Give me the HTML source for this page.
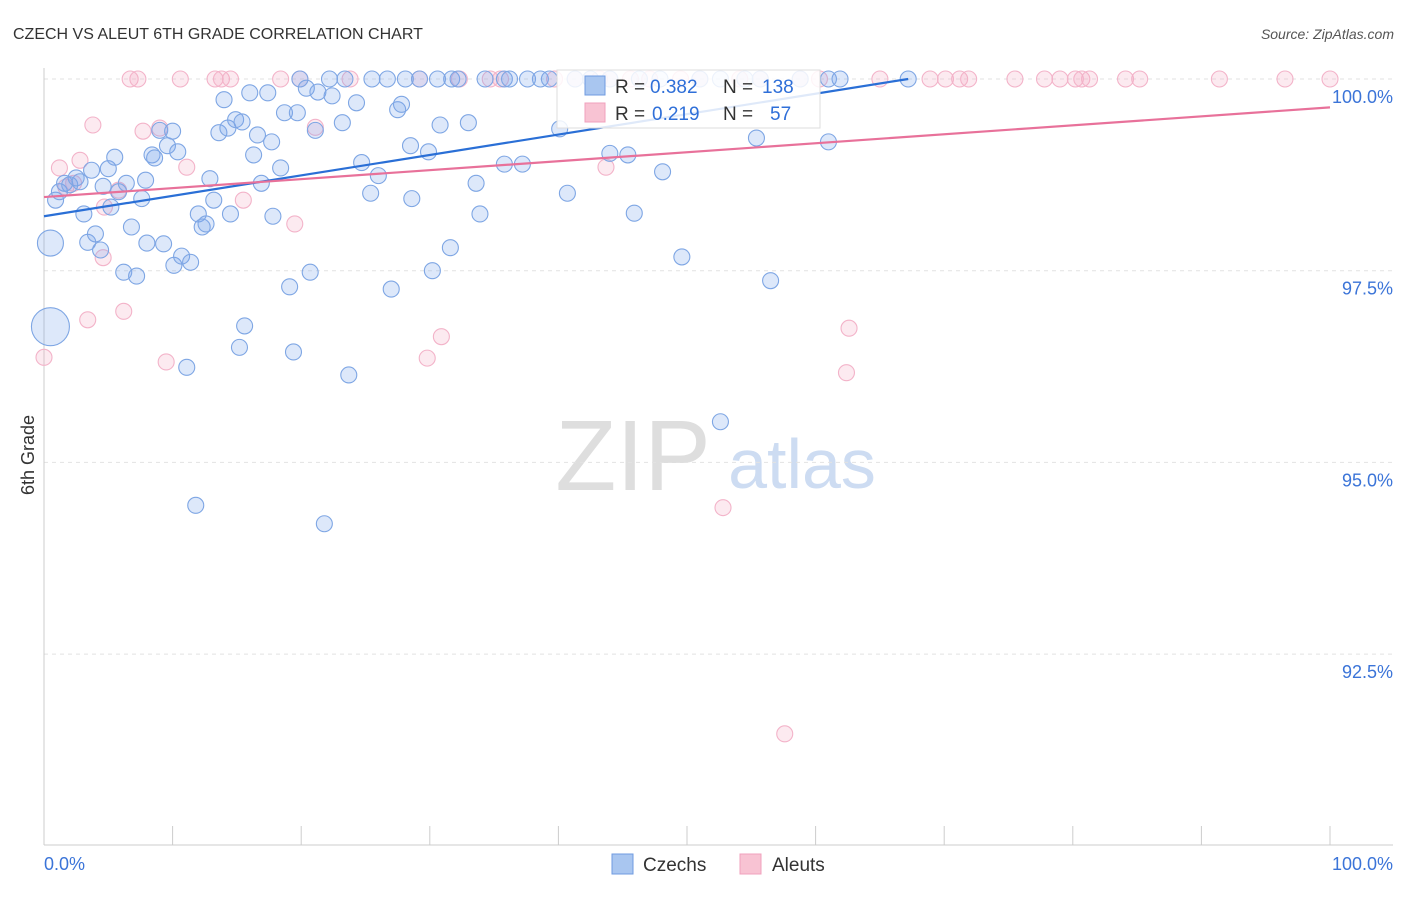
<!DOCTYPE html>
<html><head><meta charset="utf-8"><style>
body{margin:0;background:#fff;font-family:"Liberation Sans",sans-serif}
svg text{font-family:"Liberation Sans",sans-serif}
</style></head><body>
<svg id="chart" width="1406" height="892" xmlns="http://www.w3.org/2000/svg">
<text x="13" y="39" font-size="16" fill="#333">CZECH VS ALEUT 6TH GRADE CORRELATION CHART</text>
<text x="1394" y="39" font-size="14" fill="#555" text-anchor="end" font-style="italic">Source: ZipAtlas.com</text>
<g>
<text x="633" y="490" font-size="100" fill="#dedede" text-anchor="middle" font-family="Liberation Serif,serif">ZIP</text>
<text x="802" y="488" font-size="70" fill="#cddcf2" text-anchor="middle">atlas</text>
</g>
<g id="grid"></g>
<g id="axes"></g>
<g id="pts"></g>
<g id="lines"></g>
<g>
<rect x="557" y="70" width="263" height="58" fill="#fff" fill-opacity="0.85" stroke="#ddd"/>
<rect x="585" y="76" width="20" height="19" fill="#a9c6f0" stroke="#6f9be0"/>
<text x="615" y="93" font-size="19" fill="#333">R =</text>
<text x="650" y="93" font-size="19" fill="#2f6fd8">0.382</text>
<text x="723" y="93" font-size="19" fill="#333">N =</text>
<text x="762" y="93" font-size="19" fill="#2f6fd8">138</text>
<rect x="585" y="103" width="20" height="19" fill="#f8c3d3" stroke="#f0a0bc"/>
<text x="615" y="120" font-size="19" fill="#333">R =</text>
<text x="652" y="120" font-size="19" fill="#2f6fd8">0.219</text>
<text x="723" y="120" font-size="19" fill="#333">N =</text>
<text x="770" y="120" font-size="19" fill="#2f6fd8">57</text>
</g>
<g>
<rect x="612" y="854" width="21" height="20" fill="#a9c6f0" stroke="#6f9be0"/>
<text x="643" y="871" font-size="19" fill="#333">Czechs</text>
<rect x="740" y="854" width="21" height="20" fill="#f8c3d3" stroke="#f0a0bc"/>
<text x="772" y="871" font-size="19" fill="#333">Aleuts</text>
</g>
</svg>
<script>
const yTicks=[100,97.5,95,92.5];
const yTickLabels=["100.0%","97.5%","95.0%","92.5%"];
const xTickLabels=["0.0%","100.0%"];
const czechX=[19.9,22.2,23.4,25.5,26.7,28.1,29.2,30.6,31.7,32.2,34.3,35.8,36.2,37.6,38.6,39.3,41.3,42.5,44.0,46.3,47.9,51.0,52.6,54.5,55.7,58.8,61.0,61.9,67.2,
0.9,1.2,1.6,2.0,2.5,2.8,3.1,3.4,3.7,4.0,4.4,4.6,5.0,5.2,5.5,5.8,6.2,6.4,6.8,7.2,7.6,7.9,8.0,8.4,8.6,9.0,9.3,9.6,10.0,10.1,10.4,10.7,11.1,11.4,11.8,12.0,12.3,12.6,12.9,13.2,13.6,14.0,14.3,14.5,14.9,15.2,15.4,15.6,16.0,16.3,16.6,16.9,17.4,17.7,17.8,18.4,18.7,19.1,19.4,19.7,20.4,20.7,21.1,21.3,21.8,22.4,23.2,23.7,24.3,24.7,25.4,26.0,27.0,27.5,27.8,28.5,28.6,29.9,30.2,30.8,31.6,33.0,33.6,33.9,35.8,37.2,40.1,40.7,44.0,45.4,45.9,48.1,49.6,52.6,55.4,56.5,61.0,0.5,0.5];
const czechY=[100,100,100,100,100,100,100,100,100,100,100,100,100,100,100,100,100,100,100,100,100,100,100,100,100,100,100,100,100,
98.42,98.53,98.64,98.62,98.71,98.66,98.24,97.87,98.81,97.98,97.77,98.60,98.83,98.33,98.98,98.53,97.48,98.64,98.07,97.43,98.44,98.68,97.86,99.01,98.97,99.33,97.85,99.13,99.32,97.57,99.05,97.69,96.24,97.61,94.44,98.24,98.07,98.11,98.70,98.42,99.30,99.73,99.36,98.24,99.47,96.50,99.44,96.78,99.82,99.01,99.27,98.64,99.82,99.18,98.21,98.84,99.56,97.29,96.44,99.56,99.88,97.48,99.33,99.83,94.20,99.78,99.43,96.14,99.69,98.91,98.51,98.74,97.26,99.60,99.67,99.13,98.44,99.05,97.50,99.40,97.80,99.43,98.64,98.24,98.89,98.89,99.35,98.51,99.03,99.01,98.25,98.79,97.68,95.53,99.23,97.37,99.18,97.86,96.77];
const czechR=Array(czechX.length).fill(8);czechR[czechR.length-2]=13;czechR[czechR.length-1]=19;
const aleutX=[6.7,7.3,10.6,13.3,13.8,14.5,18.4,19.9,23.8,29.2,32.3,34.7,35.5,39.7,41.3,42.5,43.2,44.0,45.6,47.1,49.5,51.0,54.1,55.7,58.8,60.3,65.0,68.9,70.1,71.2,71.9,75.5,77.8,79.0,80.2,80.7,81.3,84.1,85.2,91.4,96.5,100,
0,1.2,1.7,2.3,2.8,3.4,3.8,4.6,4.7,5.8,6.2,7.7,9.0,9.5,11.1,15.5,19.5,21.1,29.8,30.9,43.7,52.8,57.6,62.6,62.4];
const aleutY=[100,100,100,100,100,100,100,100,100,100,100,100,100,100,100,100,100,100,100,100,100,100,100,100,100,100,100,100,100,100,100,100,100,100,100,100,100,100,100,100,100,100,
96.37,98.84,98.59,98.64,98.94,96.86,99.40,97.67,98.33,98.55,96.97,99.32,99.36,96.31,98.85,98.42,98.11,99.37,96.36,96.64,98.85,94.41,91.46,96.75,96.17];
const czechLine=[98.21,100.0]; const czechLineX=[0,67.2];
const aleutLine=[98.46,99.63]; const aleutLineX=[0,100];
const NS="http://www.w3.org/2000/svg";
const sx=v=>44+v*12.86, sy=v=>79+(100-v)*76.68;
function mk(t,a,p){const e=document.createElementNS(NS,t);for(const k in a)e.setAttribute(k,a[k]);p.appendChild(e);return e;}
const grid=document.getElementById('grid'),axes=document.getElementById('axes'),pts=document.getElementById('pts'),lines=document.getElementById('lines');
yTicks.forEach((t,i)=>{
 const l=mk('line',{x1:44,x2:1393,y1:sy(t),y2:sy(t),stroke:'#e2e2e2','stroke-dasharray':'4,4'},grid);
 
 
 const tx=mk('text',{x:1393,y:sy(t)+24,'font-size':18,fill:'#3b74d8','text-anchor':'end'},axes);tx.textContent=yTickLabels[i];
 
 
});
let a=mk('line',{x1:44,x2:44,y1:68,y2:845,stroke:'#ccc'},axes);


a=mk('line',{x1:44,x2:1393,y1:845,y2:845,stroke:'#ccc'},axes);


for(let i=0;i<=10;i++){const t=mk('line',{x1:sx(i*10),x2:sx(i*10),y1:826,y2:845,stroke:'#ccc'},axes);
 
 }
let xl=mk('text',{x:44,y:870,'font-size':18,fill:'#3b74d8'},axes);xl.textContent=xTickLabels[0];


xl=mk('text',{x:1393,y:870,'font-size':18,fill:'#3b74d8','text-anchor':'end'},axes);xl.textContent=xTickLabels[1];


const yt=mk('text',{x:0,y:0,'font-size':18,fill:'#333','text-anchor':'middle',transform:'translate(34,455) rotate(-90)'},axes);yt.textContent='6th Grade';


aleutX.forEach((x,i)=>{const c=mk('circle',{cx:sx(x),cy:sy(aleutY[i]),r:8,fill:'rgba(244,170,195,0.25)',stroke:'#f3b3c9','stroke-width':1.1},pts);
 
 });
czechX.forEach((x,i)=>{const c=mk('circle',{cx:sx(x),cy:sy(czechY[i]),r:czechR[i],fill:'rgba(120,165,235,0.25)',stroke:'#7ea6e4','stroke-width':1.1},pts);
 
 });
let ln=mk('line',{x1:sx(czechLineX[0]),y1:sy(czechLine[0]),x2:sx(czechLineX[1]),y2:sy(czechLine[1]),stroke:'#2a6fd6','stroke-width':2.2},lines);


ln=mk('line',{x1:sx(aleutLineX[0]),y1:sy(aleutLine[0]),x2:sx(aleutLineX[1]),y2:sy(aleutLine[1]),stroke:'#e8719a','stroke-width':2.2},lines);


</script>
</body></html>
